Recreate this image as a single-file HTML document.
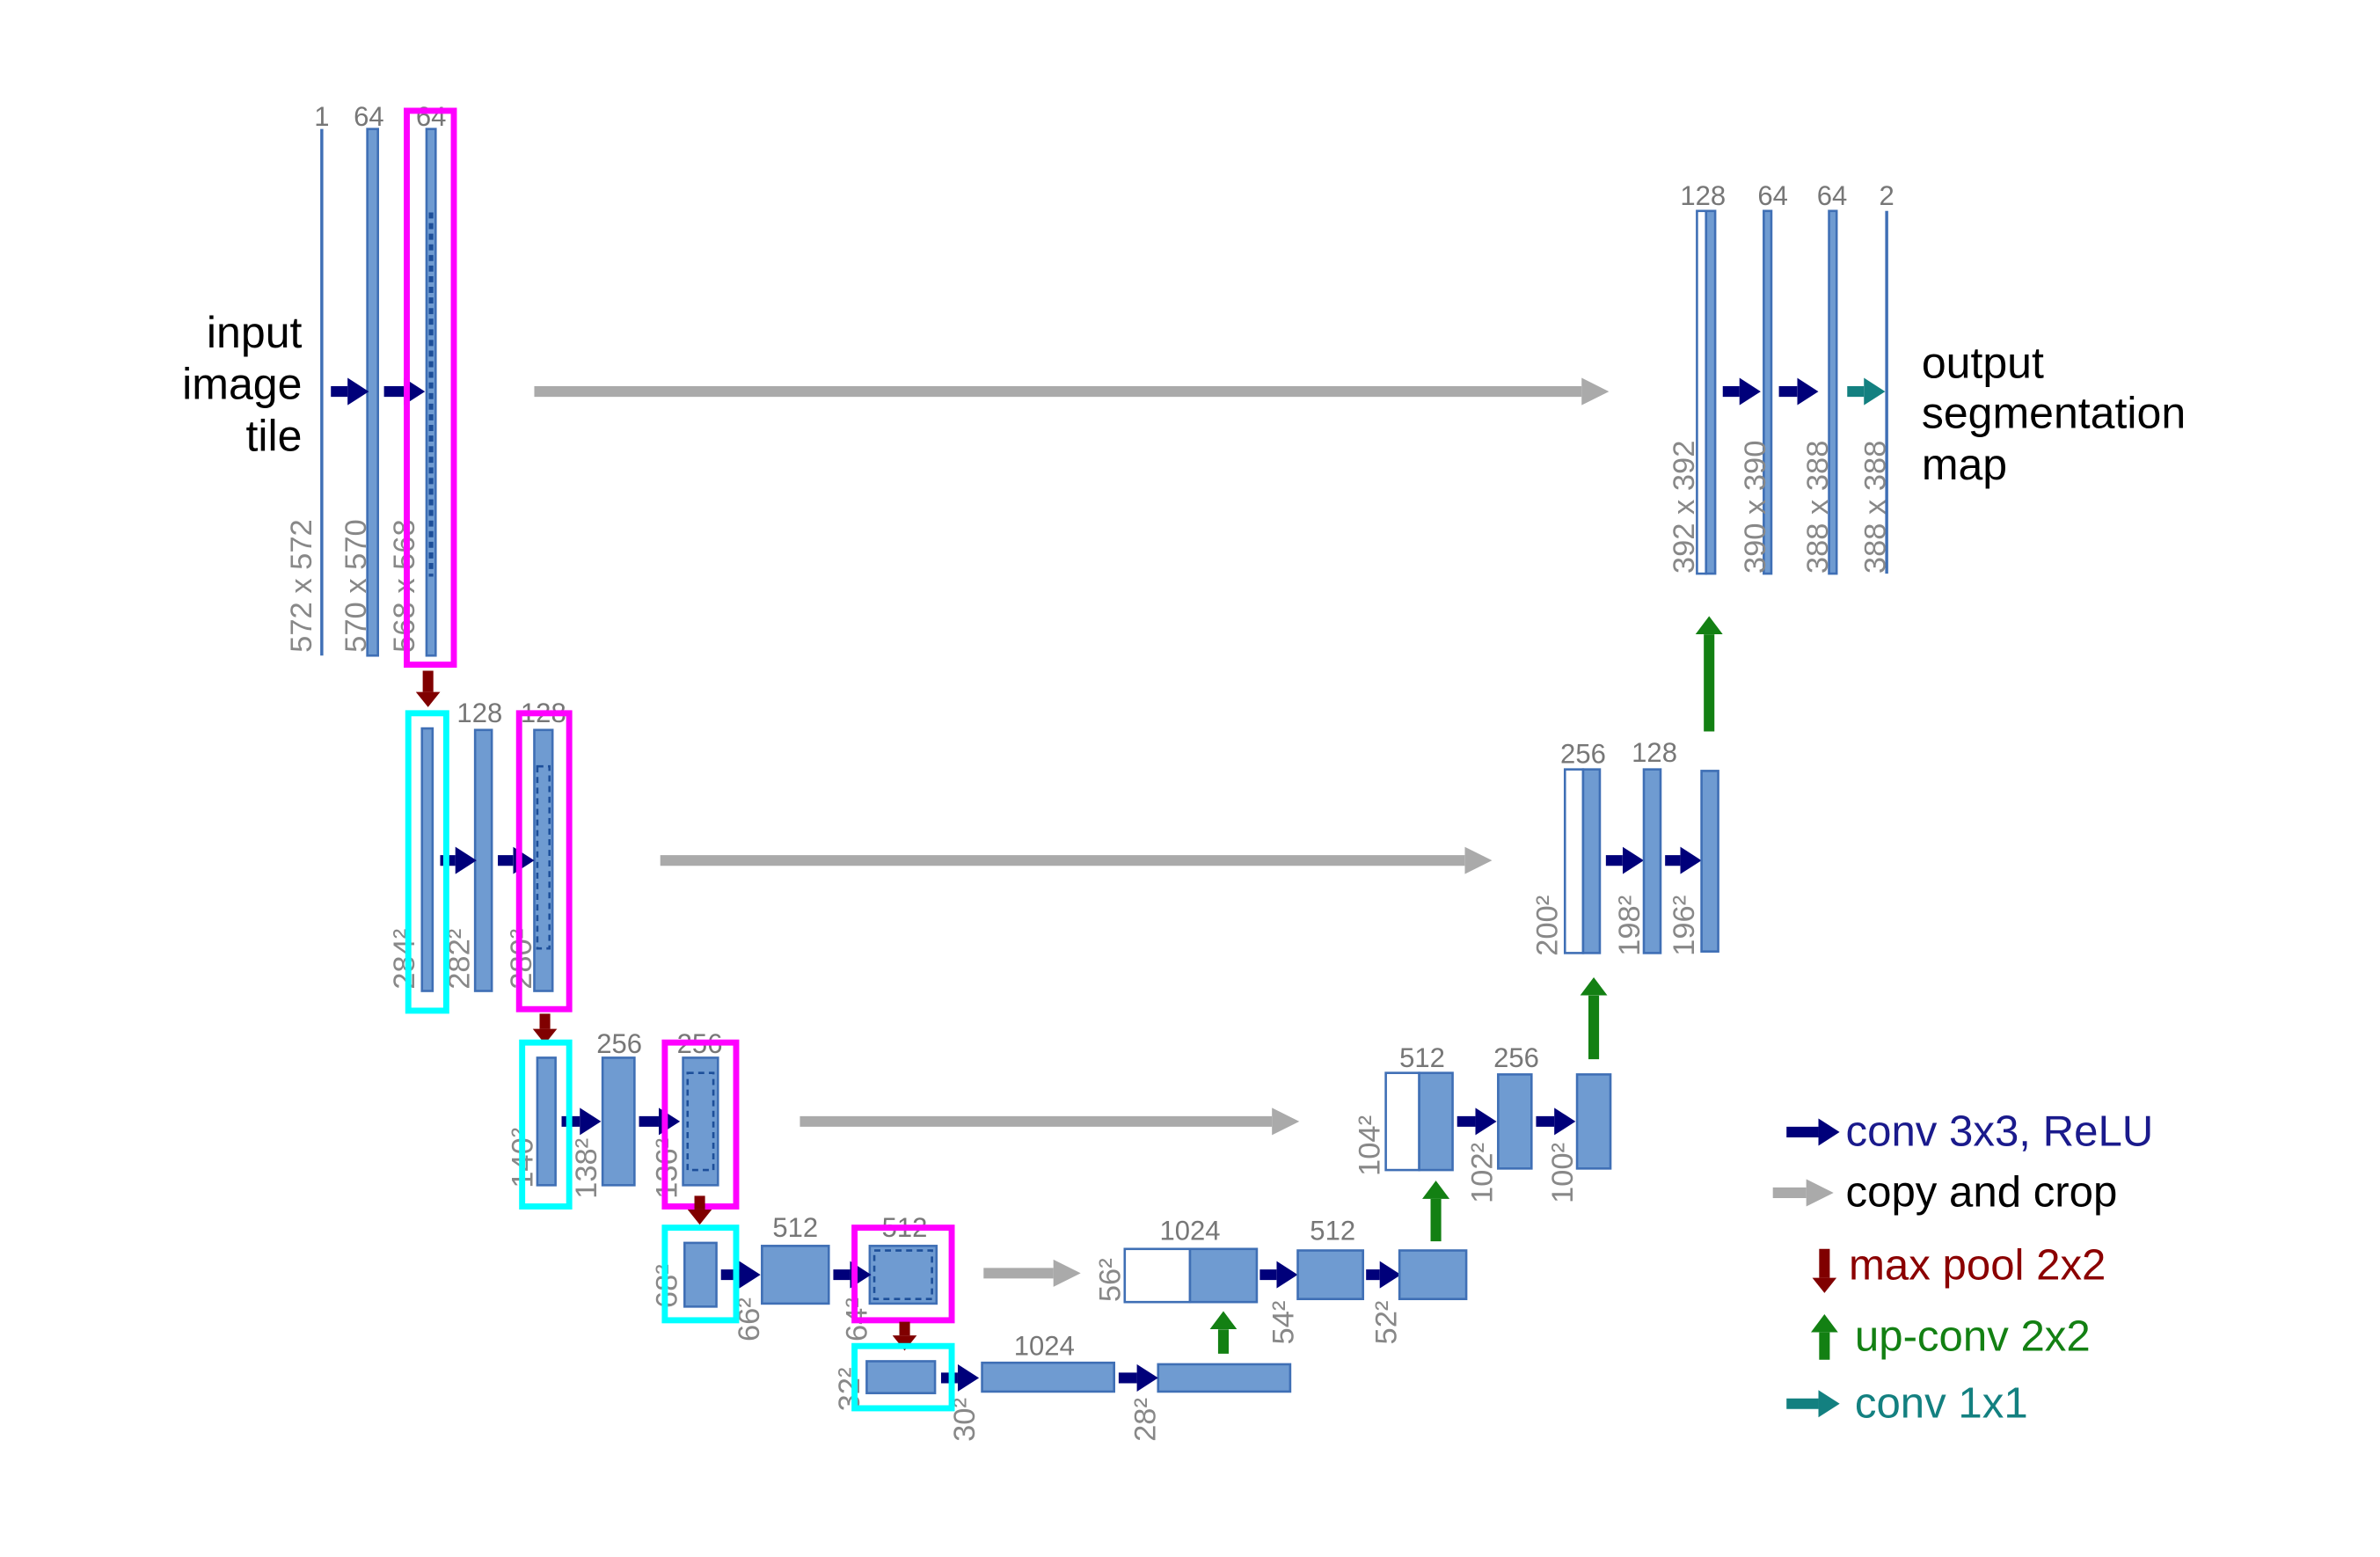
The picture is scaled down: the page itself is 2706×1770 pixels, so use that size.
<!DOCTYPE html>
<html><head><meta charset="utf-8"><style>
html,body{margin:0;padding:0;background:#fff;}
svg{display:block;}
text{font-family:"Liberation Sans",sans-serif;}
.n{fill:#777;font-size:18px;}
.r{fill:#888;font-size:20px;}
.b{fill:#6f9bd1;stroke:#3f6fb5;stroke-width:1.5;}
.w{fill:#fff;stroke:#3f6fb5;stroke-width:1.5;}
.d{fill:none;stroke:#1d4f9a;stroke-width:1.5;stroke-dasharray:4 3;}
.m{fill:none;stroke:#ff00ff;stroke-width:4;}
.c{fill:none;stroke:#00ffff;stroke-width:4;}
.cv{stroke:#00007a;stroke-width:7;marker-end:url(#mb);}
.cp{stroke:#aaa;stroke-width:7;marker-end:url(#mg);}
.mp{stroke:#800000;stroke-width:7;marker-end:url(#mr);}
.up{stroke:#138013;stroke-width:7;marker-end:url(#mu);}
.t{fill:#000;font-size:29px;}
.lg{font-size:28.5px;}
</style></head><body>
<svg width="2706" height="1770" viewBox="0 0 1568 1026" preserveAspectRatio="none">
<defs>
<marker id="mb" markerUnits="userSpaceOnUse" markerWidth="14" markerHeight="18" refX="0" refY="9" orient="auto"><path d="M0,0 L14,9 L0,18z" fill="#00007a"/></marker>
<marker id="mg" markerUnits="userSpaceOnUse" markerWidth="18" markerHeight="18" refX="0" refY="9" orient="auto"><path d="M0,0 L18,9 L0,18z" fill="#aaa"/></marker>
<marker id="mr" markerUnits="userSpaceOnUse" markerWidth="10" markerHeight="16" refX="0" refY="8" orient="auto"><path d="M0,0 L10,8 L0,16z" fill="#800000"/></marker>
<marker id="mu" markerUnits="userSpaceOnUse" markerWidth="12" markerHeight="18" refX="0" refY="9" orient="auto"><path d="M0,0 L12,9 L0,18z" fill="#138013"/></marker>
<marker id="mt" markerUnits="userSpaceOnUse" markerWidth="14" markerHeight="18" refX="0" refY="9" orient="auto"><path d="M0,0 L14,9 L0,18z" fill="#138080"/></marker>
</defs>

<text class="t" x="199" y="229" text-anchor="end">input</text>
<text class="t" x="199" y="263" text-anchor="end">image</text>
<text class="t" x="199" y="297" text-anchor="end">tile</text>
<line x1="212" y1="85" x2="212" y2="432" stroke="#3f6fb5" stroke-width="2"/>
<rect class="b" x="242" y="85" width="7" height="347"/>
<rect class="b" x="281" y="85" width="6" height="347"/>
<line class="d" x1="284" y1="140" x2="284" y2="380" style="stroke-width:3"/>
<text class="n" x="212" y="83" text-anchor="middle">1</text>
<text class="n" x="243" y="83" text-anchor="middle">64</text>
<text class="n" x="284" y="83" text-anchor="middle">64</text>
<text class="r" transform="translate(205,430) rotate(-90)">572 x 572</text>
<text class="r" transform="translate(241,430) rotate(-90)">570 x 570</text>
<text class="r" transform="translate(273,430) rotate(-90)">568 x 568</text>
<line class="cv" x1="218" y1="258" x2="229" y2="258"/>
<line class="cv" x1="253" y1="258" x2="266" y2="258"/>
<rect class="m" x="268" y="73" width="31" height="365"/>
<line class="cp" x1="352" y1="258" x2="1042" y2="258"/>
<line class="mp" x1="282" y1="442" x2="282" y2="456"/>

<rect class="b" x="278" y="480" width="7" height="173"/>
<rect class="b" x="313" y="481" width="11" height="172"/>
<rect class="b" x="352" y="481" width="12" height="172"/>
<rect class="d" x="354" y="505" width="8" height="120"/>
<text class="n" x="316" y="476" text-anchor="middle">128</text>
<text class="n" x="358" y="476" text-anchor="middle">128</text>
<text class="r" transform="translate(273,652) rotate(-90)">284²</text>
<text class="r" transform="translate(309,652) rotate(-90)">282²</text>
<text class="r" transform="translate(350,652) rotate(-90)">280²</text>
<line class="cv" x1="290" y1="567" x2="300" y2="567"/>
<line class="cv" x1="328" y1="567" x2="338" y2="567"/>
<rect class="c" x="269" y="470" width="25" height="196"/>
<rect class="m" x="342" y="470" width="33" height="195"/>
<line class="cp" x1="435" y1="567" x2="965" y2="567"/>
<line class="mp" x1="359" y1="668" x2="359" y2="678"/>

<rect class="b" x="354" y="697" width="12" height="84"/>
<rect class="b" x="397" y="697" width="21" height="84"/>
<rect class="b" x="450" y="697" width="23" height="84"/>
<rect class="d" x="453" y="707" width="17" height="64"/>
<text class="n" x="408" y="694" text-anchor="middle">256</text>
<text class="n" x="461" y="694" text-anchor="middle">256</text>
<text class="r" transform="translate(351,783) rotate(-90)">140²</text>
<text class="r" transform="translate(393,790) rotate(-90)">138²</text>
<text class="r" transform="translate(446,790) rotate(-90)">136²</text>
<line class="cv" x1="370" y1="739" x2="382" y2="739"/>
<line class="cv" x1="421" y1="739" x2="434" y2="739"/>
<rect class="c" x="344" y="687" width="31" height="108"/>
<rect class="m" x="438" y="687" width="47" height="108"/>
<line class="cp" x1="527" y1="739" x2="838" y2="739"/>
<line class="mp" x1="461" y1="788" x2="461" y2="797"/>

<rect class="b" x="451" y="819" width="21" height="42"/>
<rect class="b" x="502" y="821" width="44" height="38"/>
<rect class="b" x="573" y="821" width="44" height="38"/>
<rect class="d" x="576" y="824" width="38" height="32"/>
<text class="n" x="524" y="815" text-anchor="middle">512</text>
<text class="n" x="596" y="815" text-anchor="middle">512</text>
<text class="r" transform="translate(446,862) rotate(-90)">68²</text>
<text class="r" transform="translate(500,884) rotate(-90)">66²</text>
<text class="r" transform="translate(571,884) rotate(-90)">64²</text>
<line class="cv" x1="475" y1="840" x2="487" y2="840"/>
<line class="cv" x1="549" y1="840" x2="560" y2="840"/>
<rect class="c" x="438" y="809" width="47" height="61"/>
<rect class="m" x="563" y="809" width="64" height="61"/>
<line class="cp" x1="648" y1="839" x2="694" y2="839"/>
<line class="mp" x1="596" y1="871" x2="596" y2="880"/>

<rect class="b" x="571" y="897" width="45" height="21"/>
<rect class="b" x="647" y="898" width="87" height="19"/>
<rect class="b" x="763" y="899" width="87" height="18"/>
<text class="n" x="688" y="893" text-anchor="middle">1024</text>
<text class="r" transform="translate(566,930) rotate(-90)">32²</text>
<text class="r" transform="translate(642,950) rotate(-90)">30²</text>
<text class="r" transform="translate(761,950) rotate(-90)">28²</text>
<line class="cv" x1="620" y1="908" x2="631" y2="908"/>
<line class="cv" x1="737" y1="908" x2="749" y2="908"/>
<rect class="c" x="563" y="887" width="64" height="41"/>
<line class="up" x1="806" y1="892" x2="806" y2="876"/>

<rect class="w" x="741" y="823" width="43" height="35"/>
<rect class="b" x="784" y="823" width="44" height="35"/>
<text class="n" x="784" y="817" text-anchor="middle">1024</text>
<text class="r" transform="translate(738,858) rotate(-90)">56²</text>
<line class="cv" x1="830" y1="840" x2="841" y2="840"/>
<rect class="b" x="855" y="824" width="43" height="32"/>
<text class="n" x="878" y="817" text-anchor="middle">512</text>
<text class="r" transform="translate(852,886) rotate(-90)">54²</text>
<line class="cv" x1="900" y1="840" x2="909" y2="840"/>
<rect class="b" x="922" y="824" width="44" height="32"/>
<text class="r" transform="translate(920,886) rotate(-90)">52²</text>
<line class="up" x1="946" y1="818" x2="946" y2="790"/>

<rect class="w" x="913" y="707" width="22" height="64"/>
<rect class="b" x="935" y="707" width="22" height="64"/>
<text class="n" x="937" y="703" text-anchor="middle">512</text>
<text class="r" transform="translate(909,775) rotate(-90)">104²</text>
<line class="cv" x1="960" y1="739" x2="972" y2="739"/>
<rect class="b" x="987" y="708" width="22" height="62"/>
<text class="n" x="999" y="703" text-anchor="middle">256</text>
<text class="r" transform="translate(983,793) rotate(-90)">102²</text>
<line class="cv" x1="1012" y1="739" x2="1024" y2="739"/>
<rect class="b" x="1039" y="708" width="22" height="62"/>
<text class="r" transform="translate(1036,793) rotate(-90)">100²</text>
<line class="up" x1="1050" y1="698" x2="1050" y2="656"/>

<rect class="w" x="1031" y="507" width="12" height="121"/>
<rect class="b" x="1043" y="507" width="11" height="121"/>
<text class="n" x="1043" y="503" text-anchor="middle">256</text>
<text class="r" transform="translate(1026,630) rotate(-90)">200²</text>
<line class="cv" x1="1058" y1="567" x2="1069" y2="567"/>
<rect class="b" x="1083" y="507" width="11" height="121"/>
<text class="n" x="1090" y="502" text-anchor="middle">128</text>
<text class="r" transform="translate(1080,630) rotate(-90)">198²</text>
<line class="cv" x1="1097" y1="567" x2="1107" y2="567"/>
<rect class="b" x="1121" y="508" width="11" height="119"/>
<text class="r" transform="translate(1116,630) rotate(-90)">196²</text>
<line class="up" x1="1126" y1="482" x2="1126" y2="418"/>

<rect class="w" x="1118" y="139" width="6" height="239"/>
<rect class="b" x="1124" y="139" width="6" height="239"/>
<text class="n" x="1122" y="135" text-anchor="middle">128</text>
<text class="r" transform="translate(1116,378) rotate(-90)">392 x 392</text>
<line class="cv" x1="1135" y1="258" x2="1146" y2="258"/>
<rect class="b" x="1162" y="139" width="5" height="239"/>
<text class="n" x="1168" y="135" text-anchor="middle">64</text>
<text class="r" transform="translate(1163,378) rotate(-90)">390 x 390</text>
<line class="cv" x1="1172" y1="258" x2="1184" y2="258"/>
<rect class="b" x="1205" y="139" width="5" height="239"/>
<text class="n" x="1207" y="135" text-anchor="middle">64</text>
<text class="r" transform="translate(1204,378) rotate(-90)">388 x 388</text>
<line x1="1217" y1="258" x2="1228" y2="258" stroke="#138080" stroke-width="7" marker-end="url(#mt)"/>
<line x1="1243" y1="139" x2="1243" y2="378" stroke="#3f6fb5" stroke-width="2"/>
<text class="n" x="1243" y="135" text-anchor="middle">2</text>
<text class="r" transform="translate(1242,378) rotate(-90)">388 x 388</text>
<text class="t" x="1266" y="249">output</text>
<text class="t" x="1266" y="282">segmentation</text>
<text class="t" x="1266" y="316">map</text>

<line class="cv" x1="1177" y1="746" x2="1198" y2="746"/>
<text class="lg" x="1216" y="755" style="fill:#1a1a8c">conv 3x3, ReLU</text>
<line class="cp" x1="1168" y1="786" x2="1190" y2="786"/>
<text class="lg" x="1216" y="795" style="fill:#000">copy and crop</text>
<line class="mp" x1="1202" y1="823" x2="1202" y2="842"/>
<text class="lg" x="1218" y="843" style="fill:#8b0000">max pool 2x2</text>
<line class="up" x1="1202" y1="896" x2="1202" y2="878"/>
<text class="lg" x="1222" y="890" style="fill:#138013">up-conv 2x2</text>
<line x1="1177" y1="925" x2="1198" y2="925" stroke="#138080" stroke-width="7" marker-end="url(#mt)"/>
<text class="lg" x="1222" y="934" style="fill:#138080">conv 1x1</text>
</svg>
</body></html>
